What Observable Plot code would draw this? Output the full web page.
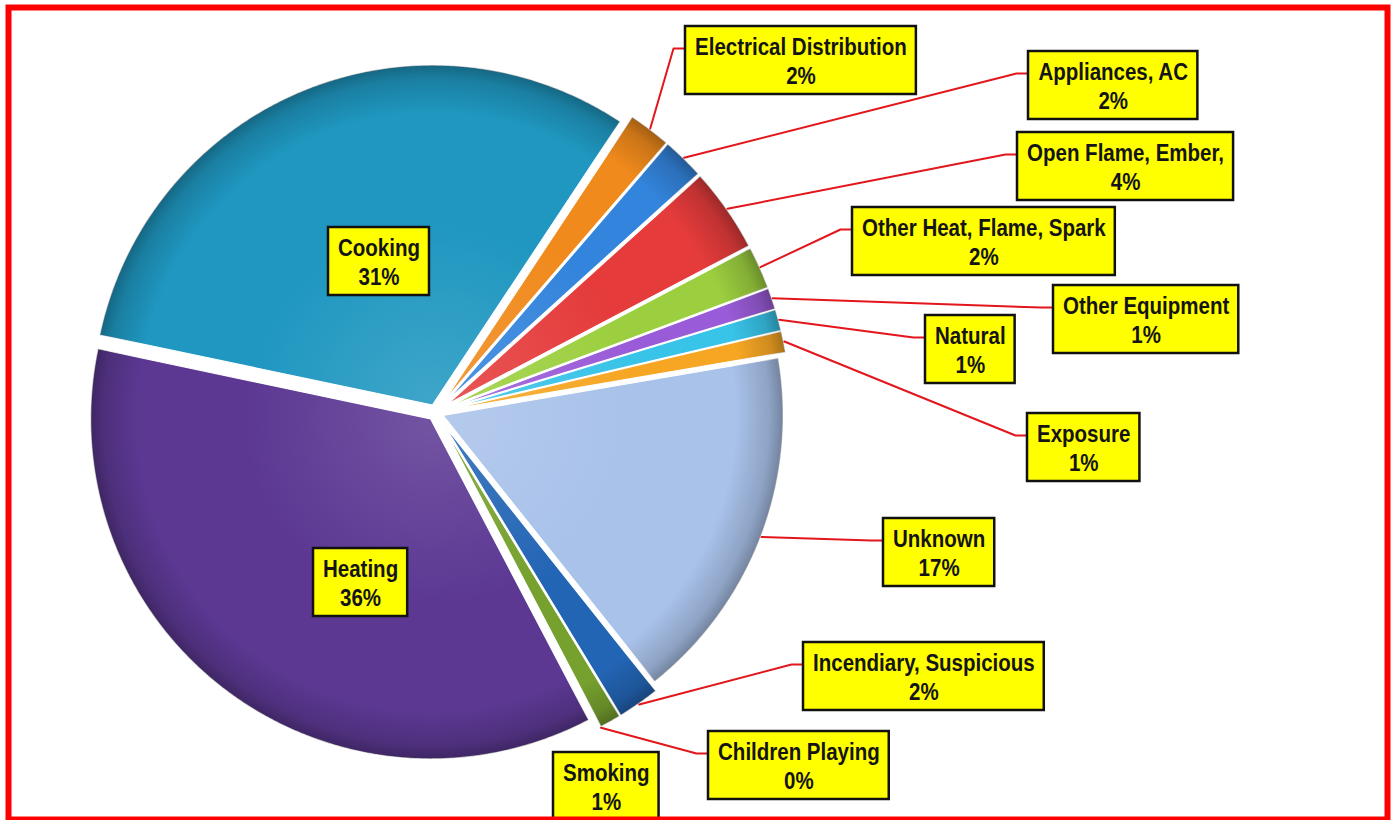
<!DOCTYPE html>
<html><head><meta charset="utf-8">
<script src="https://cdn.jsdelivr.net/npm/d3@7"></script>
<script src="https://cdn.jsdelivr.net/npm/@observablehq/plot@0.6"></script>
<style>html,body{margin:0;padding:0;background:#fff;overflow:hidden}</style>
</head><body><div id="chart"></div>
<script>
// ---- data ----
const categories = ["Electrical Distribution","Appliances, AC","Open Flame, Ember,","Other Heat, Flame, Spark","Other Equipment","Natural","Exposure","Unknown","Incendiary, Suspicious","Smoking","Children Playing","Heating","Cooking"];
const percents = [2,2,4,2,1,1,1,17,2,1,0,36,31];
const sliceColors = ["#f08a1c","#3384dc","#e53b3b","#9ccf3f","#9a5bd8","#38c3e8","#f6a623","#a9c2ea","#2365b5","#76a12e","#888888","#5c3893","#1f97c0"];
// ---- label layout (box left / top in chart pixels) ----
const labelLeft = [685,1028,1017,852,1053,925,1027,883,803,553,708,313,328];
const labelTop  = [26,51,132,207,285,315,413,518,642,752,731,548,227];
const hasLeader = [true,true,true,true,true,true,true,true,true,false,true,false,false];

const W = 1392, H = 820;
const cx = 435, cy = 412, R = 340;
const start = 33.5 * Math.PI / 180;

function hasFont(name){
  const c = document.createElement("canvas").getContext("2d");
  const s = "Electrical Distribution";
  c.font = "bold 25px monospace"; const w0 = c.measureText(s).width;
  c.font = `bold 25px '${name}', monospace`;
  return Math.abs(c.measureText(s).width - w0) > 0.5;
}
const narrow = hasFont("Liberation Sans Narrow");
const fontFamily = narrow ? "'Liberation Sans Narrow', 'Arial Narrow', sans-serif" : "'Liberation Sans', Arial, sans-serif";
const fontSize = narrow ? 25 : 20.5;
const stretchY = narrow ? 1 : 1.2;
const ctx = document.createElement("canvas").getContext("2d");
ctx.font = `bold ${fontSize}px ${fontFamily}`;

const rows = categories.map((name, i) => ({name, value: percents[i], color: sliceColors[i], i}));
const arcs = d3.pie().value(d => d.value).sort(null).startAngle(start).endAngle(start + 2*Math.PI)(rows);

const slices = arcs.map(a => {
  const mid = (a.startAngle + a.endAngle) / 2;
  const e = a.data.value >= 10 ? 8 : 15;
  const ax = cx + e * Math.sin(mid), ay = cy - e * Math.cos(mid);
  const pts = [];
  if (a.data.value > 0) {
    pts.push({name: a.data.name, x: ax, y: ay});
    const n = Math.max(2, Math.ceil((a.endAngle - a.startAngle) / (0.4*Math.PI/180)));
    for (let k = 0; k <= n; k++) {
      const t = a.startAngle + (a.endAngle - a.startAngle) * k / n;
      pts.push({name: a.data.name, x: ax + R*Math.sin(t), y: ay - R*Math.cos(t)});
    }
  }
  return {name: a.data.name, value: a.data.value, color: a.data.color, i: a.data.i, mid, ax, ay, pts,
          ox: ax + (R+1)*Math.sin(mid), oy: ay - (R+1)*Math.cos(mid)};
});
const slicePts = slices.flatMap(s => s.pts);

const boxH = 68, pad = 9.5;
const labels = rows.map((r, i) => {
  const lines = [r.name, `${r.value}%`];
  const w = Math.max(...lines.map(l => ctx.measureText(l).width)) + 2*pad;
  return {name: r.name, text: lines.join("\n"), x1: labelLeft[i], x2: labelLeft[i] + w,
          y1: labelTop[i], y2: labelTop[i] + boxH, tx: labelLeft[i] + w/2, ty: labelTop[i] + boxH/2};
});
const leaders = slices.filter(s => hasLeader[s.i]).flatMap(s => {
  const L = labels[s.i];
  const ey = L.y1 + 22;
  return [{name: s.name, x: s.ox, y: s.oy}, {name: s.name, x: L.x1 - 12, y: ey}, {name: s.name, x: L.x1, y: ey}];
});

function shadeDefs(index, scales) {
  const ns = "http://www.w3.org/2000/svg";
  const sx = scales.x, sy = scales.y;
  const defs = document.createElementNS(ns, "defs");
  slices.forEach(s => {
    const g = document.createElementNS(ns, "radialGradient");
    g.setAttribute("id", `shade-${s.i}`);
    g.setAttribute("gradientUnits", "userSpaceOnUse");
    g.setAttribute("cx", sx(s.ax)); g.setAttribute("cy", sy(s.ay));
    g.setAttribute("r", sx(s.ax + R) - sx(s.ax));
    [[0,"#ffffff",0.14],[0.55,"#ffffff",0.0],[0.86,"#000000",0.0],[0.96,"#000000",0.16],[1,"#000000",0.32]].forEach(([o,c,op]) => {
      const st = document.createElementNS(ns, "stop");
      st.setAttribute("offset", o); st.setAttribute("stop-color", c); st.setAttribute("stop-opacity", op);
      g.appendChild(st);
    });
    defs.appendChild(g);
  });
  return defs;
}

const chart = Plot.plot({
  width: W, height: H,
  margin: 0,
  x: {domain: [0, W], range: [0, W], axis: null},
  y: {domain: [0, H], range: [0, H], axis: null},
  color: {domain: categories, range: sliceColors},
  marks: [
    shadeDefs,
    Plot.line(slicePts, {x: "x", y: "y", z: "name", fill: "name", stroke: "white", strokeWidth: 1.2, curve: "linear-closed"}),
    ...slices.filter(s => s.value > 0).map(s =>
      Plot.line(s.pts, {x: "x", y: "y", fill: `url(#shade-${s.i})`, stroke: "none", curve: "linear-closed"})),
    Plot.line(leaders, {x: "x", y: "y", z: "name", stroke: "#e3161c", strokeWidth: 2}),
    Plot.rect(labels, {x1: "x1", x2: "x2", y1: "y1", y2: "y2", fill: "#ffff00", stroke: "#111", strokeWidth: 2.5}),
    Plot.text(labels, {x: "tx", y: "ty", text: "text", fontSize, fontFamily, fontWeight: "bold",
      lineHeight: 1.41 / stretchY, lineAnchor: "middle", textAnchor: "middle", fill: "#141414", className: "lbl"}),
    Plot.frame({stroke: "#ff0000", strokeWidth: 6, insetLeft: 8, insetTop: 7, insetRight: 5, insetBottom: 1})
  ]
});
// stretch the label text vertically (the original uses tall, condensed lettering)
if (stretchY !== 1) {
  chart.querySelectorAll("g.lbl text").forEach(t => {
    const T = t.getAttribute("transform") || "";
    const x = +(t.getAttribute("x") || 0), y = +(t.getAttribute("y") || 0);
    t.setAttribute("transform", `${T} translate(${x},${y}) scale(1,${stretchY}) translate(${-x},${-y})`);
  });
}
document.getElementById("chart").appendChild(chart);
</script>
</body></html>
